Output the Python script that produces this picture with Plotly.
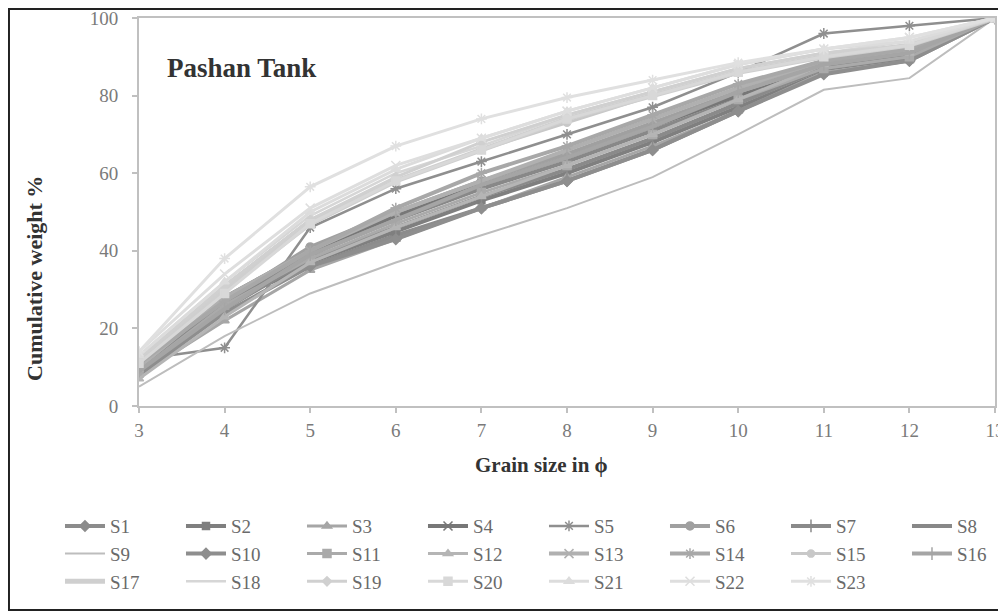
import plotly.graph_objects as go

x_phi = [3, 4, 5, 6, 7, 8, 9, 10, 11, 12, 13]

S1 = [9, 27, 36, 44, 51, 58, 66, 76, 86, 89, 100]
S2 = [10, 26, 37, 45, 53, 60, 68, 77, 86, 90, 100]
S3 = [8, 22, 35, 43, 51, 59, 67, 76, 86, 89, 100]
S4 = [9, 28, 40, 49, 57, 64, 72, 80, 87, 90, 100]
S5 = [12, 15, 46, 56, 63, 70, 77, 86, 96, 98, 100]
S6 = [9, 27, 41, 50, 58, 65, 73, 81, 88, 91, 100]
S7 = [10, 25, 38, 46, 54, 61, 69, 78, 87, 90, 100]
S8 = [10, 26, 39, 48, 56, 63, 71, 79, 87, 90, 100]
S9 = [5, 18, 29, 37, 44, 51, 59, 70, 81.5, 84.5, 100]
S10 = [8, 24, 36, 43, 51, 58, 66, 76, 85.5, 89, 100]
S11 = [9, 26, 38, 47, 55, 62, 70, 79, 87, 90, 100]
S12 = [7, 23, 37, 46, 54, 62, 70, 79, 88, 91, 100]
S13 = [10, 28, 40, 50, 58, 66, 74, 82, 89, 92, 100]
S14 = [11, 27, 40, 51, 60, 67, 75, 83, 89, 92, 100]
S15 = [12, 31, 48, 58, 66, 73, 80, 86, 90, 93, 100]
S16 = [9, 25, 39, 48, 57, 64, 72, 81, 88, 91, 100]
S17 = [12, 30, 47, 58, 66, 74, 80, 86, 90, 93, 100]
S18 = [13, 32, 49, 60, 67, 75, 81, 87, 91, 94, 100]
S19 = [12, 31, 48, 59, 68, 75, 81, 87, 91, 93, 100]
S20 = [11, 29, 47, 58, 66, 74, 80, 86, 90, 93, 100]
S21 = [13, 32, 50, 61, 69, 76, 82, 88, 92, 94, 100]
S22 = [14, 34, 51, 62, 69, 76, 82, 88, 92, 95, 100]
S23 = [14, 38, 56.5, 67, 74, 79.5, 84, 88.5, 92, 95, 100]

series_names = ["S%d" % i for i in range(1, 24)]
series_values = [S1, S2, S3, S4, S5, S6, S7, S8, S9, S10, S11, S12,
                 S13, S14, S15, S16, S17, S18, S19, S20, S21, S22, S23]

# style per series: (color, line width, marker symbol, marker size)
styles = [
    ("#8c8c8c", 4, "diamond", 8),
    ("#7f7f7f", 4, "square", 7),
    ("#a6a6a6", 3, "triangle-up", 8),
    ("#777777", 4, "x-thin-open", 9),
    ("#8f8f8f", 2.5, "asterisk-open", 9),
    ("#a0a0a0", 4, "circle", 8),
    ("#8a8a8a", 4, "line-ns-open", 9),
    ("#888888", 4, None, 0),
    ("#bdbdbd", 2, None, 0),
    ("#8e8e8e", 4, "diamond", 8),
    ("#aaaaaa", 3, "square", 8),
    ("#b5b5b5", 3, "triangle-up", 8),
    ("#b0b0b0", 4, "x-thin-open", 9),
    ("#a8a8a8", 4, "asterisk-open", 9),
    ("#c8c8c8", 3, "circle", 7),
    ("#a5a5a5", 4, "line-ns-open", 9),
    ("#cfcfcf", 5, None, 0),
    ("#d6d6d6", 2.5, None, 0),
    ("#d0d0d0", 3, "diamond", 7),
    ("#d8d8d8", 3, "square", 8),
    ("#dcdcdc", 3, "triangle-up", 8),
    ("#dedede", 3, "x-thin-open", 9),
    ("#e0e0e0", 3, "asterisk-open", 9),
]

fig = go.Figure()
for name, vals, (col, lw, sym, ms) in zip(series_names, series_values, styles):
    if sym is None:
        mode = "lines"
        marker = dict()
    else:
        mode = "lines+markers"
        marker = dict(symbol=sym, size=ms, color=col,
                      line=dict(color=col, width=1.5))
    fig.add_trace(go.Scatter(x=x_phi, y=vals, name=name, mode=mode,
                             line=dict(color=col, width=lw), marker=marker))

axis_col = "#c0c0c0"
tick_font = dict(family="Liberation Serif", size=19, color="#7a7a7a")

fig.update_layout(
    width=998, height=605,
    margin=dict(l=131, r=11, t=10, b=207, autoexpand=False),
    paper_bgcolor="white", plot_bgcolor="white",
    showlegend=True,
    legend=dict(orientation="h", x=-0.0923, xanchor="left", y=-0.2605, yanchor="top",
                font=dict(family="Liberation Serif", size=19, color="#6a6a6a"),
                entrywidth=66, tracegroupgap=0, itemwidth=40,
                bgcolor="rgba(0,0,0,0)"),
    xaxis=dict(range=[3, 13], tickmode="array", tickvals=x_phi,
               showgrid=False, zeroline=False, showline=True, linecolor=axis_col,
               linewidth=2, mirror=True, ticks="outside", ticklen=5,
               tickcolor=axis_col, tickwidth=1.5, tickfont=tick_font,
               ticklabelstandoff=1, ticklabeloverflow="allow"),
    yaxis=dict(range=[0, 100], tickmode="array", tickvals=[0, 20, 40, 60, 80, 100],
               showgrid=False, zeroline=False, showline=True, linecolor=axis_col,
               linewidth=2, mirror=True, ticks="outside", ticklen=5,
               tickcolor=axis_col, tickwidth=1.5, tickfont=tick_font,
               ticklabelstandoff=10, ticklabeloverflow="allow"),
    annotations=[
        dict(text="<b>Pashan Tank</b>", xref="paper", yref="paper",
             x=0.03, y=0.871, xanchor="left", yanchor="middle", showarrow=False,
             font=dict(family="Liberation Serif", size=27, color="#333333")),
        dict(text="<b>Grain size in ϕ</b>", xref="paper", yref="paper",
             x=0.47, y=-0.152, xanchor="center", yanchor="middle", showarrow=False,
             font=dict(family="Liberation Serif", size=21, color="#333333")),
        dict(text="<b>Cumulative weight %</b>", xref="paper", yref="paper",
             x=-0.1215, y=0.33, xanchor="center", yanchor="middle", showarrow=False,
             textangle=-90,
             font=dict(family="Liberation Serif", size=22, color="#333333")),
    ],
    shapes=[
        dict(type="rect", xref="paper", yref="paper",
             x0=-0.1519, x1=1.007, y0=-0.5258, y1=1.0232,
             line=dict(color="#222222", width=2), layer="below"),
    ],
)

fig.write_html("out.html")
